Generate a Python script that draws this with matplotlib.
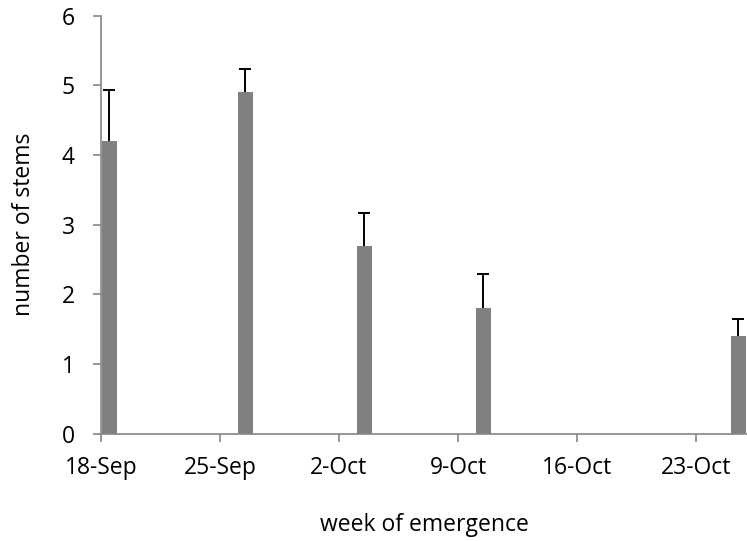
import pandas as pd
import matplotlib.pyplot as plt

plt.rcParams['font.family'] = ['Open Sans', 'DejaVu Sans']

# weekly emergence data
emergence_dates = pd.to_datetime(['2012-09-18', '2012-09-26', '2012-10-03',
                                  '2012-10-10', '2012-10-25'])
stems_mean = [4.2, 4.9, 2.7, 1.8, 1.4]
stems_se = [0.73, 0.33, 0.47, 0.50, 0.25]

tick_dates = pd.date_range('2012-09-18', '2012-10-23', freq='7D')
tick_labels = [f"{d.day}-{d.strftime('%b')}" for d in tick_dates]

fig = plt.figure(figsize=(7.47, 5.41), dpi=100)
ax = fig.add_axes([0.1352, 0.198, 0.8648, 0.773])

# bars fill each day slot, so centre them at midday
centres = emergence_dates + pd.Timedelta(hours=12)
ax.bar(centres, stems_mean, width=0.92, color='#808080', zorder=2)
eb = ax.errorbar(centres, stems_mean, yerr=[[0] * len(stems_se), stems_se],
                 fmt='none', ecolor='black', elinewidth=1.4, capsize=4,
                 capthick=1.4, zorder=3)
# upper whiskers only
eb[1][0].set_visible(False)

ax.set_xlim(pd.Timestamp('2012-09-18'), pd.Timestamp('2012-10-26'))
ax.set_ylim(0, 6)
ax.set_xticks(tick_dates)
ax.set_xticklabels(tick_labels)
ax.set_yticks(range(7))

for side in ['top', 'right']:
    ax.spines[side].set_visible(False)
for side in ['left', 'bottom']:
    ax.spines[side].set_color('#868686')
    ax.spines[side].set_linewidth(1.2)

ax.tick_params(axis='both', direction='out', length=6, width=1.2,
               color='#868686', labelsize=16.5, labelcolor='black')
ax.tick_params(axis='y', pad=13)
ax.tick_params(axis='x', pad=10)

ax.set_xlabel('week of emergence', fontsize=16.5, labelpad=24)
ax.set_ylabel('number of stems', fontsize=16.5, labelpad=18)

fig.savefig('out.png', dpi=100)
